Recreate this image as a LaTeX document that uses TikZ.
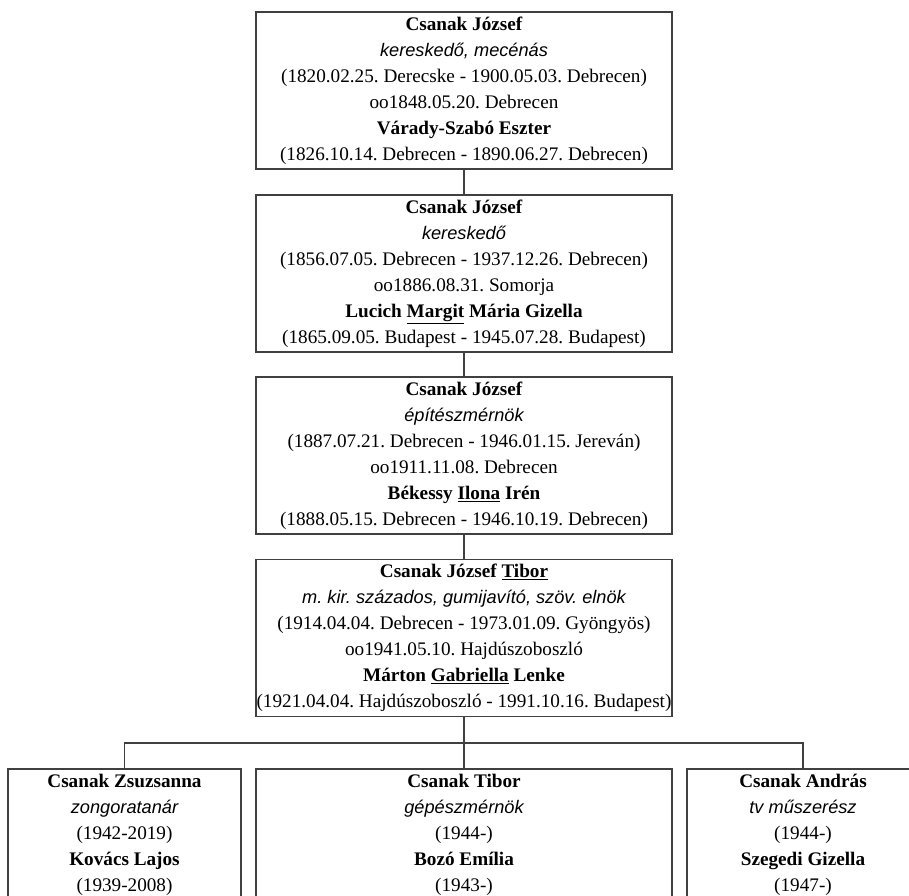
\documentclass[tikz,border=0pt]{standalone}
\usepackage{fontspec}
\setmainfont{Liberation Serif}
\setsansfont{Liberation Sans}
\usetikzlibrary{positioning}
\frenchspacing
\tikzset{
  familybox/.style={
    draw=black!75,line width=1.5pt,minimum width=416pt,minimum height=157pt,
    inner sep=0pt,align=center,font=\fontsize{19.2}{26}\selectfont,
    execute at begin node=\rule{0pt}{23pt},
  },
  childbox/.style={familybox,minimum width=233pt,minimum height=131pt},
  link/.style={draw=black!75,line width=1.5pt},
}
\newcommand{\job}[1]{{\sffamily\itshape\fontsize{18.2}{26}\selectfont #1}}

\begin{document}
\begin{tikzpicture}[x=1pt,y=-1pt]
            \useasboundingbox (0,0) rectangle (909,895);
            \clip (0,0) rectangle (909,895);
            % ancestors
            \node [familybox] (gen1) at (464,90.5) {\textbf{Csanak József}\\ \job{kereskedő, mecénás}\\ (1820.02.25. Derecske - 1900.05.03. Debrecen)\\ oo1848.05.20. Debrecen\\ \textbf{Várady-Szabó Eszter}\\ (1826.10.14. Debrecen - 1890.06.27. Debrecen)};
            \node [familybox] (gen2) at (464,273.5) {\textbf{Csanak József}\\ \job{kereskedő}\\ (1856.07.05. Debrecen - 1937.12.26. Debrecen)\\ oo1886.08.31. Somorja\\ \textbf{Lucich \underline{Margit} Mária Gizella}\\ (1865.09.05. Budapest - 1945.07.28. Budapest)};
            \node [familybox] (gen3) at (464,455.5) {\textbf{Csanak József}\\ \job{építészmérnök}\\ (1887.07.21. Debrecen - 1946.01.15. Jereván)\\ oo1911.11.08. Debrecen\\ \textbf{Békessy \underline{Ilona} Irén}\\ (1888.05.15. Debrecen - 1946.10.19. Debrecen)};
            \node [familybox] (gen4) at (464,638) {\textbf{Csanak József \underline{Tibor}}\\ \job{m. kir. százados, gumijavító, szöv. elnök}\\ (1914.04.04. Debrecen - 1973.01.09. Gyöngyös)\\ oo1941.05.10. Hajdúszoboszló\\ \textbf{Márton \underline{Gabriella} Lenke}\\ (1921.04.04. Hajdúszoboszló - 1991.10.16. Budapest)};
            % children
            \node [childbox] (zsuzsa) at (124.5,834.5) {\textbf{Csanak Zsuzsanna}\\ \job{zongoratanár}\\ (1942-2019)\\ \textbf{Kovács Lajos}\\ (1939-2008)};
            \node [childbox,minimum width=416pt] (tibor) at (464,834.5) {\textbf{Csanak Tibor}\\ \job{gépészmérnök}\\ (1944-)\\ \textbf{Bozó Emília}\\ (1943-)};
            \node [childbox,minimum width=232pt] (andras) at (803,834.5) {\textbf{Csanak András}\\ \job{tv műszerész}\\ (1944-)\\ \textbf{Szegedi Gizella}\\ (1947-)};
            \coordinate (fork) at (464,743);
            % lines
            \draw [link] (gen1) -- (gen2);
            \draw [link] (gen2) -- (gen3);
            \draw [link] (gen3) -- (gen4);
            \draw [link] (gen4) -- (fork);
            \draw [link] (zsuzsa.north) |- (fork) -| (andras.north);
            \draw [link] (fork) -- (tibor.north);
\end{tikzpicture}
\end{document}
